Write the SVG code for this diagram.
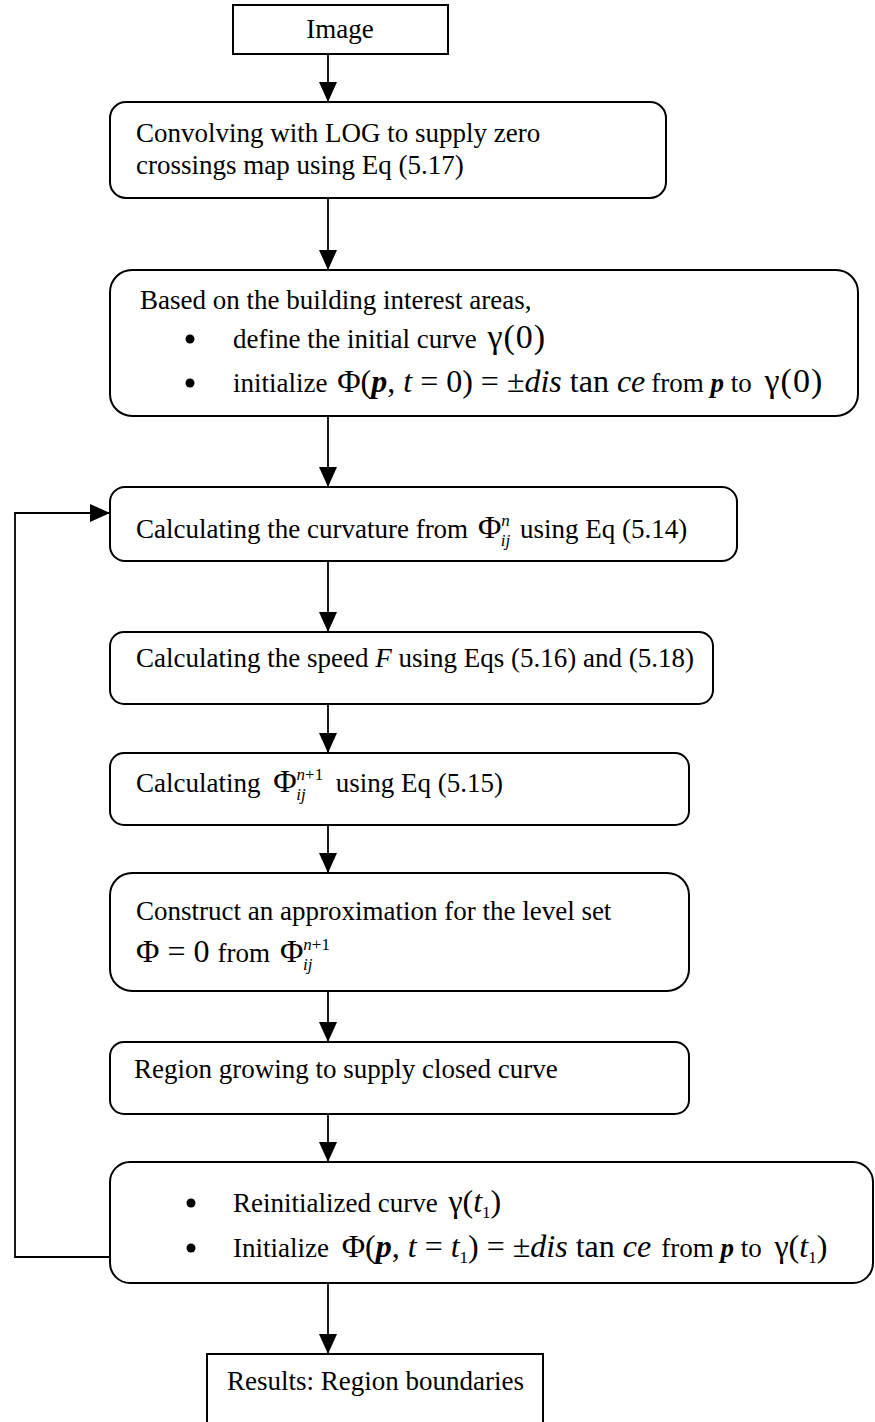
<svg xmlns="http://www.w3.org/2000/svg" width="875" height="1422" viewBox="0 0 875 1422">
<style>
  .box{fill:#fff;stroke:#000;stroke-width:2}
  .t{font-family:"Liberation Serif","Times New Roman",serif;font-size:27px;fill:#000}
  .m{font-family:"Liberation Serif","Times New Roman",serif;font-size:32px}
  .g{font-family:"Liberation Serif","Times New Roman",serif;font-size:34px}
  .s{font-size:17px;font-style:italic}
  .u{font-size:17px;font-style:normal}
  .i{font-style:italic}
  .bi{font-style:italic;font-weight:bold}
  .c{fill:none;stroke:#000;stroke-width:1.8}
</style>
<defs>
  <marker id="ah" markerUnits="userSpaceOnUse" markerWidth="20" markerHeight="18" refX="20" refY="9" orient="auto">
    <path d="M0,0 L20,9 L0,18 z" fill="#000"/>
  </marker>
</defs>
<rect width="875" height="1422" fill="#fff"/>

<g id="connectors">
  <line class="c" x1="328" y1="54" x2="328" y2="102" marker-end="url(#ah)"/>
  <line class="c" x1="328" y1="198" x2="328" y2="270" marker-end="url(#ah)"/>
  <line class="c" x1="328" y1="416" x2="328" y2="487" marker-end="url(#ah)"/>
  <line class="c" x1="328" y1="561" x2="328" y2="632" marker-end="url(#ah)"/>
  <line class="c" x1="328" y1="704" x2="328" y2="753" marker-end="url(#ah)"/>
  <line class="c" x1="328" y1="825" x2="328" y2="873" marker-end="url(#ah)"/>
  <line class="c" x1="328" y1="991" x2="328" y2="1042" marker-end="url(#ah)"/>
  <line class="c" x1="328" y1="1114" x2="328" y2="1162" marker-end="url(#ah)"/>
  <line class="c" x1="328" y1="1283" x2="328" y2="1354" marker-end="url(#ah)"/>
  <polyline class="c" points="110,1257 15,1257 15,513 110,513" marker-end="url(#ah)"/>
</g>

<g id="n-image">
  <rect class="box" x="233" y="5" width="215" height="49"/>
  <text class="t" x="340" y="38" text-anchor="middle">Image</text>
</g>

<g id="n-convolve">
  <rect class="box" x="110" y="102" width="556" height="96" rx="16"/>
  <text class="t" x="136" y="142">Convolving with LOG to supply zero</text>
  <text class="t" x="136" y="174">crossings map using Eq (5.17)</text>
</g>

<g id="n-init">
  <rect class="box" x="110" y="270" width="748" height="146" rx="22"/>
  <text class="t" x="140" y="309">Based on the building interest areas,</text>
  <circle cx="190" cy="339" r="4.5"/>
  <text class="t" x="233" y="348">define the initial curve <tspan class="g" dx="4" letter-spacing="1">γ(0)</tspan></text>
  <circle cx="190" cy="383" r="4.5"/>
  <text class="t" x="233" y="392">initialize <tspan class="m" dx="3">Φ(<tspan class="bi">p</tspan>, <tspan class="i">t</tspan> = 0) = ±<tspan class="i">dis</tspan> tan <tspan class="i">ce</tspan></tspan><tspan dx="6">from </tspan><tspan class="bi">p</tspan> to <tspan class="g" dx="6" letter-spacing="1">γ(0)</tspan></text>
</g>

<g id="n-curvature">
  <rect class="box" x="110" y="487" width="627" height="74" rx="15"/>
  <text class="t" x="136" y="538">Calculating the curvature from <tspan class="m" dx="3">Φ</tspan><tspan class="s" dy="-12">n</tspan><tspan class="s" dx="-9" dy="20">ij</tspan><tspan dx="3" dy="-8"> using Eq (5.14)</tspan></text>
</g>

<g id="n-speed">
  <rect class="box" x="110" y="632" width="603" height="72" rx="14"/>
  <text class="t" x="136" y="667">Calculating the speed <tspan class="i">F</tspan> using Eqs (5.16) and (5.18)</text>
</g>

<g id="n-phi">
  <rect class="box" x="110" y="753" width="579" height="72" rx="14"/>
  <text class="t" x="136" y="792">Calculating <tspan class="m" dx="6">Φ</tspan><tspan class="s" dy="-12">n</tspan><tspan class="u">+1</tspan><tspan class="s" dx="-27" dy="20">ij</tspan><tspan dx="30" dy="-8">using Eq (5.15)</tspan></text>
</g>

<g id="n-construct">
  <rect class="box" x="110" y="873" width="579" height="118" rx="22"/>
  <text class="t" x="136" y="920">Construct an approximation for the level set</text>
  <text class="t" x="136" y="962"><tspan class="m">Φ = 0</tspan><tspan dx="8">from</tspan><tspan class="m" dx="10">Φ</tspan><tspan class="s" dy="-12">n</tspan><tspan class="u">+1</tspan><tspan class="s" dx="-27" dy="20">ij</tspan></text>
</g>

<g id="n-region">
  <rect class="box" x="110" y="1042" width="579" height="72" rx="14"/>
  <text class="t" x="134" y="1078">Region growing to supply closed curve</text>
</g>

<g id="n-reinit">
  <rect class="box" x="110" y="1162" width="763" height="121" rx="20"/>
  <circle cx="191" cy="1203" r="4.5"/>
  <text class="t" x="233" y="1212">Reinitialized curve <tspan class="m" dx="4">γ(<tspan class="i">t</tspan></tspan><tspan class="u" dy="6">1</tspan><tspan class="m" dy="-6">)</tspan></text>
  <circle cx="191" cy="1248" r="4.5"/>
  <text class="t" x="233" y="1257">Initialize <tspan class="m" dx="6">Φ(<tspan class="bi">p</tspan>, <tspan class="i">t</tspan> = <tspan class="i">t</tspan></tspan><tspan class="u" dy="6">1</tspan><tspan class="m" dy="-6">) = ±<tspan class="i">dis</tspan> tan <tspan class="i">ce</tspan></tspan><tspan dx="10">from </tspan><tspan class="bi">p</tspan> to <tspan class="m" dx="6">γ(<tspan class="i">t</tspan></tspan><tspan class="u" dy="6">1</tspan><tspan class="m" dy="-6">)</tspan></text>
</g>

<g id="n-results">
  <rect class="box" x="207" y="1354" width="336" height="80"/>
  <text class="t" x="227" y="1390">Results: Region boundaries</text>
</g>
</svg>
